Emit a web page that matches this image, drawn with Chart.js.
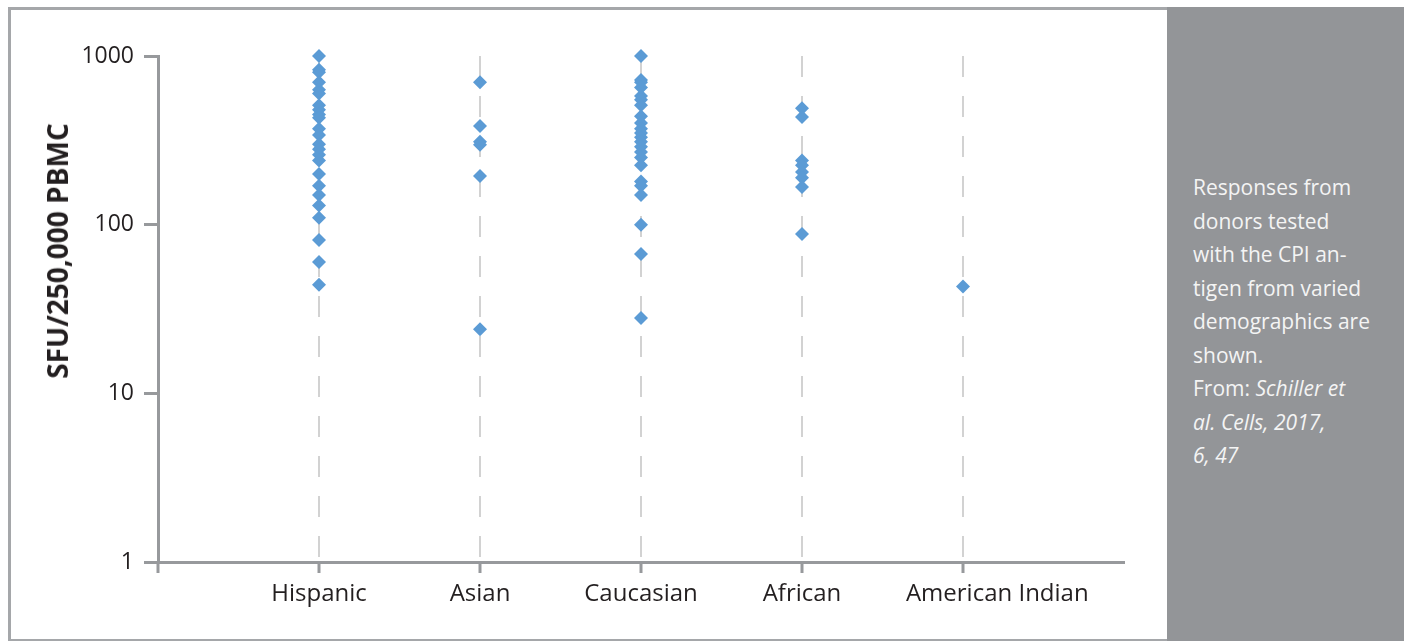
<!DOCTYPE html>
<html>
<head>
<meta charset="utf-8">
<script src="https://cdn.jsdelivr.net/npm/chart.js@4"></script>
<style>
  html, body { margin: 0; padding: 0; background: #fff; }
  body { width: 1404px; height: 641px; position: relative; overflow: hidden; }
  #frame { position: absolute; left: 8px; top: 7px; width: 1162px; height: 635px; box-sizing: border-box; border: 3px solid #a5a7aa; }
  #side { position: absolute; left: 1167px; top: 7px; width: 237px; height: 634px; background: #939598; }
  #note { position: absolute; left: 26px; top: 164px; color: #f4f4f4; font: 21px 'Open Sans', sans-serif; line-height: 33.5px; white-space: nowrap; }
  #chart { position: absolute; left: 0; top: 0; }
  #ytitle { position: absolute; left: 57px; top: 251px; transform: translate(-50%, -50%) rotate(-90deg); white-space: nowrap;
            font: bold 28px 'Open Sans', sans-serif; color: #231f20; }
</style>
</head>
<body>
<div id="frame"></div>
<div id="side">
  <div id="note">Responses from<br>donors tested<br>with the CPI an-<br>tigen from varied<br>demographics are<br>shown.<br>From: <i>Schiller et</i><br><i>al. Cells, 2017,</i><br><i>6, 47</i></div>
</div>
<canvas id="chart" width="1167" height="641"></canvas>
<div id="ytitle">SFU/250,000 PBMC</div>
<script>
// categories along the x axis
const categories = ['Hispanic', 'Asian', 'Caucasian', 'African', 'American Indian'];

// SFU per 250,000 PBMC
const hispanic = [1000, 830, 800, 700, 630, 600, 510, 480, 450, 430, 370, 340, 300, 280, 260, 240, 200, 170, 150, 130, 110, 81, 60, 44];
const asian = [700, 384, 310, 298, 194, 24];
const caucasian = [1000, 720, 700, 650, 580, 550, 510, 440, 400, 370, 350, 330, 310, 290, 270, 250, 225, 180, 170, 150, 100, 67, 28];
const african = [490, 435, 240, 225, 205, 190, 167, 88];
const americanIndian = [43];

const yTicks = [1, 10, 100, 1000];

const groups = [hispanic, asian, caucasian, african, americanIndian];
const points = [];
groups.forEach((vals, i) => vals.forEach(v => points.push({ x: i + 1, y: v })));

const axisGrey = '#97999c';
const textCol = '#231f20';

new Chart(document.getElementById('chart'), {
  type: 'scatter',
  data: {
    datasets: [{
      data: points,
      pointStyle: 'rectRot',
      pointRadius: 7,
      pointBorderWidth: 0,
      backgroundColor: '#5b9bd5',
      borderColor: '#5b9bd5',
      clip: false
    }]
  },
  options: {
    responsive: false,
    animation: false,
    layout: { padding: { top: 56, right: 43, left: 0, bottom: 0 } },
    plugins: { legend: { display: false }, tooltip: { enabled: false } },
    scales: {
      x: {
        type: 'linear',
        min: 0,
        max: 6,
        afterBuildTicks: s => { s.ticks = [0, 1, 2, 3, 4, 5].map(v => ({ value: v })); },
        afterFit: s => { s.height = 79; },
        ticks: {
          // the last label sits a little right of its tick in the original
          callback: v => (v === 5 ? '           ' : '') + (categories[v - 1] || ''),
          color: textCol,
          font: { family: "'Open Sans', sans-serif", size: 24 },
          padding: 7,
          maxRotation: 0,
          autoSkip: false
        },
        grid: {
          color: c => (c.tick && c.tick.value === 0) ? 'rgba(0,0,0,0)' : '#d2d2d2',
          lineWidth: 2,
          tickColor: axisGrey,
          tickWidth: 3,
          tickBorderDash: [],
          tickLength: 11
        },
        border: { color: axisGrey, width: 3, dash: [21, 19] }
      },
      y: {
        type: 'logarithmic',
        min: 1,
        max: 1000,
        afterBuildTicks: s => { s.ticks = yTicks.map(v => ({ value: v })); },
        afterFit: s => { s.width = 158; },
        ticks: {
          callback: v => String(v),
          color: textCol,
          font: { family: "'Open Sans', sans-serif", size: 23 },
          padding: 10
        },
        grid: {
          drawOnChartArea: false,
          tickColor: axisGrey,
          tickWidth: 3,
          tickLength: 14
        },
        border: { color: axisGrey, width: 3 }
      }
    }
  }
});
</script>
</body>
</html>
